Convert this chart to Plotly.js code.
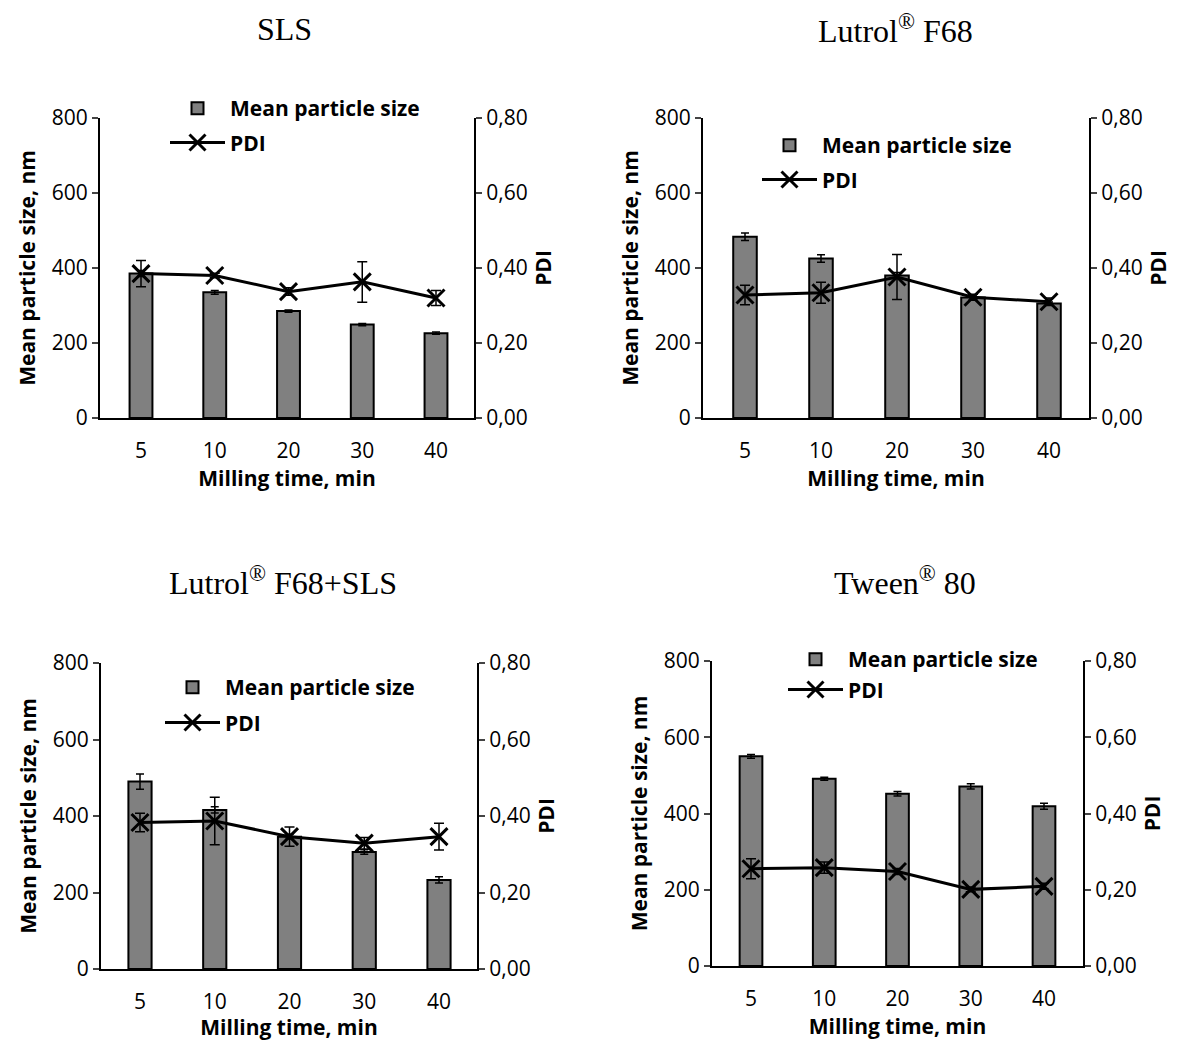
<!DOCTYPE html>
<html>
<head>
<meta charset="utf-8">
<script src="https://cdn.plot.ly/plotly-3.0.1.min.js"></script>
<style>html,body{margin:0;padding:0;background:#fff;}#chart{width:1177px;height:1041px;}</style>
</head>
<body>
<div id="chart"></div>
<script>
// ---- data ----
const categories = ['5', '10', '20', '30', '40'];
const panelTitles = ['SLS', 'Lutrol<sup>®</sup> F68', 'Lutrol<sup>®</sup> F68+SLS', 'Tween<sup>®</sup> 80'];

const slsSize = [385, 335, 285, 249, 226];
const slsSizeErr = [8, 5, 3, 3, 3];
const slsPdi = [0.385, 0.380, 0.337, 0.363, 0.320];
const slsPdiErr = [0.035, 0.006, 0.010, 0.054, 0.020];

const lutSize = [483, 425, 380, 321, 305];
const lutSizeErr = [10, 10, 8, 4, 4];
const lutPdi = [0.328, 0.334, 0.376, 0.322, 0.310];
const lutPdiErr = [0.026, 0.028, 0.060, 0.008, 0.010];

const mixSize = [490, 416, 346, 306, 233];
const mixSizeErr = [20, 8, 6, 6, 8];
const mixPdi = [0.383, 0.387, 0.346, 0.329, 0.346];
const mixPdiErr = [0.024, 0.062, 0.025, 0.015, 0.035];

const tweSize = [550, 491, 452, 471, 419];
const tweSizeErr = [5, 4, 6, 7, 8];
const twePdi = [0.255, 0.258, 0.248, 0.201, 0.209];
const twePdiErr = [0.026, 0.015, 0.008, 0.006, 0.008];

const sizeName = 'Mean particle size';
const pdiName = 'PDI';
const xTitle = 'Milling time, min';
const yTitle = 'Mean particle size, nm';
const y2Title = 'PDI';

// ---- layout helpers ----
const W = 1177, H = 1041;
const px = v => v / W;
const py = v => 1 - v / H;
const ITEMW = 55;

// x0/x1: plot edges (px); c0/c4: pixel centres of first/last category
const panels = [
  {size: slsSize, sizeErr: slsSizeErr, pdi: slsPdi, pdiErr: slsPdiErr,
   x0: 100, x1: 474, c0: 141, c4: 436, y0: 118, y1: 418, title: [284, 29], legend: [230, 108], gap: 4},
  {size: lutSize, sizeErr: lutSizeErr, pdi: lutPdi, pdiErr: lutPdiErr,
   x0: 703, x1: 1089, c0: 745, c4: 1049, y0: 118, y1: 418, title: [895, 29], legend: [822, 145], gap: 4},
  {size: mixSize, sizeErr: mixSizeErr, pdi: mixPdi, pdiErr: mixPdiErr,
   x0: 101, x1: 477, c0: 140, c4: 439, y0: 663, y1: 969, title: [283, 581], legend: [225, 687], gap: 5},
  {size: tweSize, sizeErr: tweSizeErr, pdi: twePdi, pdiErr: twePdiErr,
   x0: 712, x1: 1083, c0: 751, c4: 1044, y0: 661, y1: 966, title: [905, 581], legend: [848, 659], gap: 0}
];

const FONT = '"Open Sans", Lato, sans-serif';
const data = [];
const layout = {
  width: W, height: H,
  margin: {l: 0, r: 0, t: 0, b: 0},
  paper_bgcolor: '#fff', plot_bgcolor: 'rgba(0,0,0,0)',
  separators: ',.',
  font: {family: FONT, size: 21, color: '#000'},
  showlegend: true,
  annotations: []
};

panels.forEach((p, i) => {
  const n = i + 1;
  const xa = n === 1 ? 'x' : 'x' + n;
  const yl = 'y' + (2 * i + 1 === 1 ? '' : (2 * i + 1));
  const yr = 'y' + (2 * i + 2);
  const legName = n === 1 ? 'legend' : 'legend' + n;

  data.push({
    type: 'bar', name: sizeName, x: categories, y: p.size,
    xaxis: xa, yaxis: yl, width: 0.31,
    marker: {color: '#808080', line: {color: '#000', width: 2}},
    error_y: {type: 'data', array: p.sizeErr, visible: true, color: '#000', thickness: 1.5, width: 4},
    legend: legName, legendgroup: 'a' + n
  });
  data.push({
    type: 'scatter', mode: 'lines+markers', name: pdiName, x: categories, y: p.pdi,
    xaxis: xa, yaxis: yr,
    line: {color: '#000', width: 3},
    marker: {symbol: 'x-thin', size: 17, line: {color: '#000', width: 3}, color: '#000'},
    error_y: {type: 'data', array: p.pdiErr, visible: true, color: '#000', thickness: 1.5, width: 5},
    legend: legName, legendgroup: 'b' + n
  });

  const xKey = n === 1 ? 'xaxis' : 'xaxis' + n;
  const ylKey = 'yaxis' + (2 * i + 1 === 1 ? '' : (2 * i + 1));
  const yrKey = 'yaxis' + (2 * i + 2);
  const step = (p.c4 - p.c0) / 4;
  const r0 = (p.x0 - p.c0) / step;
  const r1 = 4 + (p.x1 - p.c4) / step;

  layout[xKey] = {
    domain: [px(p.x0), px(p.x1)], anchor: yl, type: 'category', range: [r0, r1],
    showline: true, linecolor: '#000', linewidth: 2, ticks: '', ticklabelstandoff: 13,
    showgrid: false, zeroline: false, fixedrange: true,
    tickfont: {family: FONT, size: 21},
    title: {text: xTitle, font: {family: FONT, size: 21, weight: 'bold'}, standoff: 0}
  };
  layout[ylKey] = {
    domain: [py(p.y1), py(p.y0)], anchor: xa, range: [0, 800], tickvals: [0, 200, 400, 600, 800],
    showline: true, linecolor: '#000', linewidth: 2, ticks: 'outside', ticklen: 6, tickwidth: 2,
    showgrid: false, zeroline: false, fixedrange: true,
    tickfont: {family: FONT, size: 21},
    title: {text: yTitle, font: {family: FONT, size: 21, weight: 'bold'}, standoff: 10}
  };
  layout[yrKey] = {
    domain: [py(p.y1), py(p.y0)], anchor: xa, overlaying: yl, side: 'right',
    range: [0, 0.8], tickvals: [0, 0.2, 0.4, 0.6, 0.8], tickformat: '.2f',
    showline: true, linecolor: '#000', linewidth: 2, ticks: 'outside', ticklen: 6, tickwidth: 2,
    showgrid: false, zeroline: false, fixedrange: true,
    tickfont: {family: FONT, size: 21},
    title: {text: y2Title, font: {family: FONT, size: 21, weight: 'bold'}, standoff: 10}
  };
  layout[legName] = {
    x: px(p.legend[0] - ITEMW - 10), y: py(p.legend[1] - 20), xanchor: 'left', yanchor: 'top',
    bgcolor: 'rgba(0,0,0,0)', borderwidth: 0, itemwidth: ITEMW,
    traceorder: 'grouped', tracegroupgap: p.gap,
    font: {family: FONT, size: 21, color: '#000', weight: 'bold'}
  };
  layout.annotations.push({
    text: panelTitles[i], xref: 'paper', yref: 'paper',
    x: px(p.title[0]), y: py(p.title[1]), xanchor: 'center', yanchor: 'middle',
    showarrow: false, font: {family: '"Liberation Serif", "Times New Roman", serif', size: 32, color: '#000'}
  });
});

Plotly.newPlot('chart', data, layout, {displayModeBar: false, staticPlot: true});
</script>
</body>
</html>
